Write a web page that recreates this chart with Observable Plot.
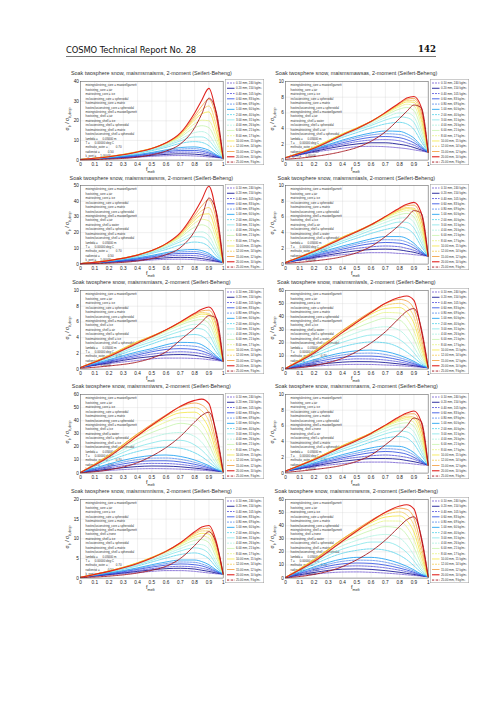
<!DOCTYPE html>
<html><head><meta charset="utf-8">
<script src="https://cdn.jsdelivr.net/npm/d3@7"></script>
<script src="https://cdn.jsdelivr.net/npm/@observablehq/plot@0.6"></script>
<style>
body{margin:0;background:#fff;}
#page{position:relative;width:504px;height:712px;overflow:hidden;background:#fff;font-family:"Liberation Sans",Arial,sans-serif;color:#222;}
.abs{position:absolute;white-space:nowrap;}
.title{font-size:5.4px;color:#333;transform:translate(-50%,-50%);}
.ylab{font-size:5.2px;transform:translate(-50%,-50%) rotate(-90deg);}
.xlab{font-size:5.4px;transform:translate(-50%,-50%);}
sub{font-size:70%;vertical-align:-0.35em;}
</style></head>
<body><div id="page"></div>
<script>
// ---------------- data ----------------
const fMelt = [0, 0.2, 0.4, 0.5, 0.6, 0.7, 0.8, 0.85, 0.9, 0.95, 1];
const xTicks = [0, 0.1, 0.2, 0.3, 0.4, 0.5, 0.6, 0.7, 0.8, 0.9, 1];
const diametersMm = ["0.10","0.20","0.40","0.60","0.80","1.00","2.00","3.00","4.00","6.00","8.00","10.00","12.00","15.00","20.00","25.00"];
const densitiesKgM3 = [240,150,105,83,69,60,40,31,26,21,17,15,14,12,10,9];
const chartCodes = ["maismsmaisms","maismsmawsas","maismsmawsms","maismsmiasls","maismsmiasrs","maismsmiwsls","maismsmiwsrs","maismsmnasms","maismsmnisms","maismsmnwsms"];
const yMaxima = [40,10,50,10,10,60,60,10,20,60];
const yTickSteps = [10,2,10,2,2,10,10,2,5,10];

const maismsmaisms = [
 [0.3,0.8,1.5,1.9,2.2,2.3,2.1,1.9,1.6,1.3,1.0],
 [0.3,0.9,1.8,2.4,2.9,3.2,3.0,2.7,2.2,1.6,1.0],
 [0.3,1.0,2.1,2.9,3.6,4.1,4.0,3.6,2.9,1.9,1.0],
 [0.3,1.1,2.4,3.3,4.2,4.9,4.9,4.5,3.6,2.2,1.0],
 [0.3,1.2,2.6,3.6,4.7,5.6,5.8,5.3,4.2,2.5,1.0],
 [0.3,1.3,2.8,3.9,5.2,6.4,6.7,6.2,5.0,2.8,1.0],
 [0.3,1.5,3.4,4.8,6.5,8.5,9.4,9.0,7.3,4.0,1.0],
 [0.3,1.6,3.7,5.2,7.2,9.8,11.8,11.8,10.0,5.5,1.0],
 [0.3,1.7,3.9,5.5,7.7,10.7,14.0,14.5,12.8,7.0,1.0],
 [0.3,1.8,4.1,5.8,8.2,11.7,16.5,17.5,16.5,9.5,1.0],
 [0.3,1.8,4.2,5.9,8.5,12.3,18.5,20.3,20.0,12.0,1.0],
 [0.3,1.8,4.3,6.0,8.7,12.8,20.5,23.5,24.5,15.0,1.0],
 [0.3,1.8,4.3,6.0,8.8,13.2,21.5,25.5,27.5,18.0,1.0],
 [0.3,1.8,4.2,6.0,8.8,13.5,22.5,27.5,31.0,22.0,1.0],
 [0.3,1.7,4.1,5.9,8.8,13.8,24.0,30.5,36.5,24.0,1.0],
 [0.1,0.5,1.5,2.7,4.6,8.2,16.5,23.5,31.5,25.0,1.0]
];
const maismsmawsas = [
 [0.3,1.0,1.5,1.7,1.75,1.7,1.55,1.45,1.3,1.15,1.0],
 [0.3,1.1,1.8,2.05,2.2,2.2,2.0,1.85,1.6,1.3,1.0],
 [0.3,1.2,2.0,2.35,2.55,2.6,2.45,2.2,1.9,1.45,1.0],
 [0.3,1.3,2.2,2.6,2.9,3.0,2.85,2.6,2.2,1.6,1.0],
 [0.3,1.35,2.4,2.85,3.2,3.35,3.25,3.0,2.5,1.7,1.0],
 [0.3,1.4,2.55,3.05,3.45,3.7,3.65,3.35,2.8,1.85,1.0],
 [0.3,1.5,2.9,3.5,4.1,4.6,4.8,4.6,3.9,2.4,1.0],
 [0.3,1.55,3.1,3.8,4.4,5.1,5.5,5.4,4.8,2.9,1.0],
 [0.3,1.6,3.2,3.9,4.6,5.4,6.0,6.0,5.5,3.4,1.0],
 [0.3,1.65,3.3,4.0,4.8,5.7,6.5,6.7,6.3,4.0,1.0],
 [0.3,1.65,3.35,4.1,4.9,5.85,6.8,7.1,6.9,4.6,1.0],
 [0.3,1.65,3.35,4.1,4.95,5.95,7.0,7.4,7.35,5.2,1.0],
 [0.3,1.6,3.3,4.1,4.95,6.0,7.1,7.6,7.6,5.7,1.0],
 [0.3,1.55,3.25,4.05,4.95,6.05,7.2,7.75,7.85,6.2,1.0],
 [0.3,1.5,3.2,4.0,4.9,6.05,7.3,7.9,8.1,6.8,1.0],
 [0.1,0.45,1.1,1.6,2.4,3.6,5.3,6.2,7.0,6.7,1.0]
];
const maismsmawsms = [
 [0.3,1.0,2.0,2.6,3.0,3.1,2.8,2.4,2.0,1.5,1.0],
 [0.3,1.2,2.5,3.3,4.0,4.3,4.0,3.5,2.8,1.9,1.0],
 [0.3,1.4,3.0,4.0,5.0,5.6,5.4,4.8,3.8,2.3,1.0],
 [0.3,1.5,3.4,4.6,5.9,6.8,6.8,6.1,4.8,2.8,1.0],
 [0.3,1.6,3.7,5.1,6.6,7.8,8.0,7.3,5.8,3.2,1.0],
 [0.3,1.7,4.0,5.5,7.3,8.8,9.3,8.6,6.8,3.6,1.0],
 [0.3,2.0,4.8,6.8,9.3,12.2,14.0,13.5,11.0,5.5,1.0],
 [0.3,2.1,5.2,7.5,10.5,14.2,17.5,17.3,14.5,7.5,1.0],
 [0.3,2.2,5.4,7.9,11.2,15.5,20.0,20.5,18.0,9.5,1.0],
 [0.3,2.3,5.7,8.3,12.0,17.0,23.5,25.0,23.0,13.0,1.0],
 [0.3,2.3,5.8,8.5,12.4,17.8,26.0,28.5,27.5,16.5,1.0],
 [0.3,2.3,5.9,8.6,12.7,18.5,28.0,31.5,32.0,20.0,1.0],
 [0.3,2.3,5.9,8.7,12.9,19.0,29.5,34.0,36.0,24.0,1.0],
 [0.3,2.3,5.8,8.7,13.0,19.5,31.0,37.0,41.0,29.0,1.0],
 [0.3,2.2,5.7,8.6,13.0,20.0,33.0,41.0,49.5,33.0,1.0],
 [0.1,0.6,2.0,3.5,6.0,10.5,21.0,30.0,42.0,34.0,1.0]
];
const maismsmiasls = [
 [0.2,0.75,1.2,1.35,1.45,1.45,1.35,1.3,1.2,1.1,1.0],
 [0.2,0.85,1.45,1.7,1.85,1.9,1.8,1.65,1.5,1.25,1.0],
 [0.2,0.95,1.7,2.0,2.2,2.3,2.2,2.0,1.75,1.4,1.0],
 [0.2,1.05,1.9,2.3,2.6,2.75,2.65,2.45,2.05,1.5,1.0],
 [0.2,1.15,2.1,2.55,2.9,3.1,3.05,2.8,2.35,1.6,1.0],
 [0.2,1.25,2.3,2.75,3.2,3.5,3.5,3.25,2.65,1.75,1.0],
 [0.2,1.4,2.7,3.3,3.9,4.4,4.7,4.5,3.8,2.3,1.0],
 [0.2,1.5,2.95,3.6,4.3,4.9,5.35,5.3,4.6,2.8,1.0],
 [0.2,1.6,3.15,3.85,4.6,5.3,5.85,5.9,5.3,3.3,1.0],
 [0.2,1.65,3.3,4.05,4.85,5.65,6.3,6.45,6.0,3.9,1.0],
 [0.2,1.7,3.4,4.15,4.95,5.85,6.6,6.8,6.5,4.4,1.0],
 [0.2,1.7,3.45,4.2,5.0,5.95,6.8,7.05,6.95,5.0,1.0],
 [0.2,1.7,3.45,4.2,5.05,6.0,6.9,7.2,7.1,5.6,1.0],
 [0.2,1.65,3.4,4.2,5.05,6.05,7.05,7.45,7.5,5.9,1.0],
 [0.2,1.6,3.3,4.1,5.0,6.05,7.15,7.6,7.85,6.6,1.0],
 [0.1,0.4,0.95,1.45,2.25,3.5,5.0,5.9,6.8,6.5,1.0]
];
const maismsmiasrs = [
 [0.2,0.7,1.1,1.3,1.4,1.4,1.35,1.3,1.2,1.1,1.0],
 [0.2,0.8,1.4,1.6,1.8,1.85,1.75,1.6,1.45,1.25,1.0],
 [0.2,0.9,1.6,1.9,2.1,2.2,2.1,1.95,1.7,1.35,1.0],
 [0.2,1.0,1.8,2.2,2.5,2.6,2.5,2.3,1.95,1.45,1.0],
 [0.2,1.1,2.0,2.4,2.8,3.0,2.9,2.7,2.2,1.55,1.0],
 [0.2,1.2,2.2,2.6,3.1,3.4,3.35,3.1,2.5,1.7,1.0],
 [0.2,1.4,2.6,3.2,3.8,4.2,4.4,4.2,3.5,2.2,1.0],
 [0.2,1.5,2.9,3.5,4.2,4.8,5.2,5.1,4.4,2.7,1.0],
 [0.2,1.6,3.1,3.8,4.5,5.2,5.7,5.7,5.1,3.1,1.0],
 [0.2,1.7,3.3,4.0,4.8,5.6,6.2,6.3,5.8,3.7,1.0],
 [0.2,1.75,3.4,4.1,4.9,5.8,6.5,6.7,6.4,4.2,1.0],
 [0.2,1.75,3.5,4.2,5.0,5.9,6.7,7.0,6.9,4.8,1.0],
 [0.2,1.75,3.5,4.2,5.0,6.0,6.9,7.2,7.05,5.5,1.0],
 [0.2,1.7,3.4,4.2,5.0,6.0,7.0,7.4,7.5,5.8,1.0],
 [0.2,1.6,3.3,4.1,5.0,6.0,7.1,7.6,7.9,6.5,1.0],
 [0.1,0.4,0.9,1.4,2.2,3.7,5.2,6.0,6.8,6.5,1.0]
];
const maismsmiwsls = [
 [0.5,2.2,3.4,3.6,3.5,3.1,2.6,2.2,1.8,1.4,1.0],
 [0.5,3.2,5.3,5.7,5.6,5.0,3.9,3.3,2.6,1.7,1.0],
 [0.5,4.2,7.1,7.8,7.7,6.9,5.4,4.4,3.3,2.0,1.0],
 [0.5,5.2,9.0,9.9,9.9,9.0,7.0,5.7,4.1,2.3,1.0],
 [0.5,6.2,10.8,12.0,12.2,11.1,8.6,7.0,5.0,2.6,1.0],
 [0.5,7.2,12.5,14.0,14.5,13.4,10.5,8.4,5.9,3.0,1.0],
 [0.5,9.8,17.0,19.5,20.7,20.0,16.3,13.0,8.8,4.3,1.0],
 [0.5,11.3,20.5,23.7,26.0,26.2,22.5,18.3,12.5,5.7,1.0],
 [0.5,12.3,23.5,27.8,31.0,32.3,29.5,24.5,16.8,7.8,1.0],
 [0.5,13.2,26.3,31.5,35.8,38.8,37.3,32.3,23.0,10.5,1.0],
 [0.5,13.6,28.0,34.2,39.5,43.2,42.8,38.5,29.0,13.5,1.0],
 [0.5,13.8,29.2,36.0,42.0,46.3,47.0,43.5,35.0,17.0,1.0],
 [0.5,13.7,29.6,36.8,43.3,48.5,50.2,47.8,40.0,20.5,1.0],
 [0.5,13.3,29.5,37.0,44.0,50.0,53.2,52.0,45.8,24.5,1.0],
 [0.5,12.3,28.0,35.8,43.2,50.2,54.8,55.8,52.5,30.5,1.0],
 [0.2,2.6,8.3,13.4,20.0,28.5,39.2,44.2,46.2,32.0,1.0]
];
const maismsmiwsrs = [
 [0.5,2.0,3.2,3.4,3.3,3.0,2.5,2.2,1.8,1.4,1.0],
 [0.5,3.0,5.0,5.4,5.3,4.8,3.8,3.2,2.5,1.7,1.0],
 [0.5,4.0,6.8,7.4,7.3,6.6,5.2,4.3,3.2,2.0,1.0],
 [0.5,5.0,8.6,9.4,9.4,8.5,6.7,5.5,4.0,2.3,1.0],
 [0.5,6.0,10.3,11.4,11.5,10.5,8.2,6.7,4.8,2.6,1.0],
 [0.5,7.0,12.0,13.4,13.8,12.7,10.0,8.0,5.7,3.0,1.0],
 [0.5,9.5,16.5,18.8,19.8,19.0,15.5,12.5,8.5,4.2,1.0],
 [0.5,11.0,20.0,23.0,25.0,25.0,21.5,17.5,12.0,5.5,1.0],
 [0.5,12.0,23.0,27.0,30.0,31.0,28.0,23.5,16.0,7.5,1.0],
 [0.5,13.0,26.0,31.0,35.0,38.0,36.0,31.0,22.0,10.0,1.0],
 [0.5,13.5,28.0,34.0,39.0,42.5,42.0,37.5,28.0,13.0,1.0],
 [0.5,13.8,29.5,36.0,42.0,46.0,46.5,43.0,34.0,16.5,1.0],
 [0.5,13.8,30.0,37.0,43.5,48.5,50.0,47.5,39.5,20.0,1.0],
 [0.5,13.5,30.0,37.5,44.5,50.5,53.5,52.0,45.5,24.0,1.0],
 [0.5,12.5,28.5,36.5,44.0,51.0,55.5,56.5,53.0,30.0,1.0],
 [0.2,2.5,8.0,13.0,19.5,28.0,39.0,44.0,46.5,32.0,1.0]
];
const maismsmnasms = [
 [0.25,0.8,1.2,1.35,1.4,1.4,1.3,1.25,1.15,1.05,1.0],
 [0.25,0.9,1.5,1.7,1.85,1.85,1.75,1.6,1.45,1.25,1.0],
 [0.25,1.0,1.75,2.0,2.2,2.3,2.15,2.0,1.75,1.4,1.0],
 [0.25,1.1,1.95,2.3,2.6,2.75,2.6,2.4,2.0,1.5,1.0],
 [0.25,1.2,2.15,2.55,2.9,3.1,3.0,2.75,2.3,1.6,1.0],
 [0.25,1.3,2.35,2.8,3.2,3.45,3.4,3.15,2.6,1.75,1.0],
 [0.25,1.5,2.8,3.35,3.95,4.45,4.65,4.45,3.7,2.3,1.0],
 [0.25,1.6,3.05,3.7,4.35,5.0,5.35,5.25,4.55,2.8,1.0],
 [0.25,1.7,3.25,3.95,4.65,5.35,5.85,5.85,5.25,3.3,1.0],
 [0.25,1.75,3.4,4.15,4.9,5.7,6.3,6.4,5.95,3.9,1.0],
 [0.25,1.8,3.5,4.25,5.0,5.9,6.6,6.8,6.45,4.4,1.0],
 [0.25,1.8,3.5,4.3,5.1,6.0,6.8,7.05,6.9,5.0,1.0],
 [0.25,1.8,3.5,4.3,5.1,6.05,6.95,7.25,7.1,5.6,1.0],
 [0.25,1.75,3.45,4.25,5.1,6.1,7.1,7.5,7.55,5.9,1.0],
 [0.25,1.7,3.35,4.15,5.05,6.1,7.2,7.65,7.9,6.6,1.0],
 [0.1,0.45,1.0,1.5,2.3,3.6,5.1,6.0,7.0,6.6,1.0]
];
const maismsmnisms = [
 [0.2,0.8,1.4,1.7,1.9,1.9,1.7,1.5,1.3,1.1,1.0],
 [0.2,0.9,1.7,2.1,2.4,2.5,2.3,2.0,1.7,1.3,1.0],
 [0.2,1.0,1.9,2.4,2.8,3.0,2.8,2.5,2.1,1.5,1.0],
 [0.2,1.1,2.2,2.8,3.3,3.6,3.4,3.1,2.5,1.7,1.0],
 [0.2,1.2,2.4,3.1,3.7,4.1,4.0,3.6,2.9,1.9,1.0],
 [0.2,1.3,2.6,3.4,4.1,4.6,4.6,4.2,3.4,2.1,1.0],
 [0.2,1.5,3.1,4.1,5.1,6.0,6.4,6.0,4.9,2.8,1.0],
 [0.2,1.6,3.4,4.5,5.7,6.9,7.7,7.4,6.2,3.5,1.0],
 [0.2,1.7,3.6,4.8,6.1,7.5,8.6,8.5,7.4,4.2,1.0],
 [0.2,1.8,3.8,5.1,6.5,8.1,9.6,9.8,9.0,5.3,1.0],
 [0.2,1.8,3.9,5.2,6.7,8.5,10.3,10.7,10.2,6.2,1.0],
 [0.2,1.8,3.9,5.3,6.8,8.7,10.8,11.4,11.2,7.0,1.0],
 [0.2,1.8,3.9,5.3,6.9,8.9,11.2,12.0,12.0,7.8,1.0],
 [0.2,1.8,3.8,5.2,6.9,9.0,11.5,12.5,12.7,8.6,1.0],
 [0.2,1.7,3.7,5.1,6.8,9.0,11.8,13.0,13.4,9.5,1.0],
 [0.1,0.5,1.3,2.0,3.0,5.0,8.3,10.2,11.8,9.0,1.0]
];
const maismsmnwsms = [
 [0.5,3.0,4.6,4.7,4.4,3.8,3.0,2.5,2.0,1.5,1.0],
 [0.5,4.3,6.8,7.0,6.6,5.7,4.4,3.6,2.8,1.8,1.0],
 [0.5,5.5,8.9,9.3,8.9,7.8,6.0,4.9,3.6,2.1,1.0],
 [0.5,6.6,10.9,11.5,11.2,9.9,7.6,6.2,4.4,2.4,1.0],
 [0.5,7.6,12.8,13.7,13.5,12.1,9.3,7.5,5.3,2.7,1.0],
 [0.5,8.5,14.6,15.8,15.8,14.4,11.2,9.0,6.3,3.1,1.0],
 [0.5,10.5,19.0,21.2,22.3,21.3,17.4,14.0,9.4,4.5,1.0],
 [0.5,11.8,22.2,25.3,27.5,27.5,23.7,19.5,13.2,6.0,1.0],
 [0.5,12.8,24.8,28.8,32.0,33.3,30.5,25.5,17.5,8.0,1.0],
 [0.5,13.6,27.3,32.3,36.5,39.3,38.0,33.0,23.5,10.8,1.0],
 [0.5,14.0,28.8,34.8,40.0,43.6,43.5,39.0,29.5,13.8,1.0],
 [0.5,14.2,29.8,36.4,42.3,46.6,47.5,44.0,35.2,17.3,1.0],
 [0.5,14.0,30.0,37.0,43.5,48.6,50.5,48.2,40.3,20.8,1.0],
 [0.5,13.6,29.8,37.2,44.2,50.0,53.4,52.5,46.0,25.0,1.0],
 [0.5,12.6,28.3,36.0,43.5,50.3,55.0,56.0,52.8,31.0,1.0],
 [0.2,2.8,8.8,14.0,20.5,29.0,39.5,44.5,46.8,32.5,1.0]
];
const chartSeries = [maismsmaisms, maismsmawsas, maismsmawsms, maismsmiasls, maismsmiasrs,
                     maismsmiwsls, maismsmiwsrs, maismsmnasms, maismsmnisms, maismsmnwsms];

// ---------------- styles ----------------
const lineColors = ["#5b3fc9","#1c1c96","#3a36d6","#2546e0","#3c78ea","#2aa6f2","#3ccbe6","#72e2e6",
                    "#a2f0dc","#bdf2a0","#e2f274","#f4e640","#f4c43c","#f39a36","#e0231f","#a3121a"];
const lineDash = ["2 1","none","2 1","none","2 1","none","2 1","none","2 1","none","2 1","none","2 1","none","none","2 0.8 0.5 0.8"];
const lineWidth = [0.7,0.9,0.7,0.8,0.7,0.9,0.7,0.7,0.7,0.7,0.7,0.8,0.7,0.8,1.1,0.9];

const charNames = {a:"air", i:"ice", w:"water", n:"none", m:"matrix", r:"ice", l:"water", s:"spheroidal"};
function annotation(code) {
  const lines = [];
  [["core", code.slice(0,6)], ["shell", code.slice(6)]].forEach(([part, c]) => {
    lines.push(`mixingrulestring_${part} = maxwellgarnett`);
    lines.push(`hoststring_${part} = ${charNames[c[1]]}`);
    lines.push(`matrixstring_${part} = ${charNames[c[2]]}`);
    lines.push(`inclusionstring_${part} = spheroidal`);
    lines.push(`hostmatrixstring_${part} = ${charNames[c[4]]}`);
    lines.push(`hostinclusionstring_${part} = spheroidal`);
  });
  lines.push("lambda =      0.05000 m");
  lines.push("T =      0.00000 deg C");
  lines.push("meltratio_outer =          0.70");
  lines.push("radienrat =          0.50");
  lines.push("k_pert =     1.00000");
  return lines.join("\n");
}

// ---------------- layout ----------------
const page = document.getElementById("page");
function addDiv(cls, x, y, html, extra) {
  const d = document.createElement("div");
  d.className = "abs " + cls;
  d.style.left = x + "px"; d.style.top = y + "px";
  d.innerHTML = html;
  if (extra) Object.assign(d.style, extra);
  page.appendChild(d);
  return d;
}
// header
addDiv("", 66, 44.5, "COSMO Technical Report No. 28", {fontSize:"8.4px", fontFamily:"'DejaVu Sans',sans-serif", letterSpacing:"-0.1px", color:"#111"});
addDiv("", 436, 44, "142", {fontSize:"8.6px", fontWeight:"bold", fontFamily:"'DejaVu Serif',serif", transform:"translateX(-100%)", color:"#111"});
addDiv("", 66, 55.6, "", {width:"370px", height:"0", borderTop:"0.6px solid #777"});

const PW = 142.7, PH = 78.6;
const ML = 16, MR = 3, MT = 4, MB = 12;

chartCodes.forEach((code, idx) => {
  const col = idx % 2, row = Math.floor(idx / 2);
  const plotLeft = col ? 285 : 80;
  const plotTop = 80.7 + 104.45 * row;
  const yMax = yMaxima[idx], step = yTickSteps[idx];
  const yTicks = d3.range(0, yMax + step / 2, step);
  const series = chartSeries[idx];
  const rows = series.flatMap((vals, k) => vals.map((v, j) => ({f: fMelt[j], v, k})));

  const marks = [
    Plot.gridX(xTicks, {stroke:"#d4d4d4", strokeOpacity:1, strokeWidth:0.35}),
    Plot.gridY(yTicks, {stroke:"#d4d4d4", strokeOpacity:1, strokeWidth:0.35}),
    Plot.text([annotation(code)], {text:d=>d, frameAnchor:"top-left", dx:5, dy:1.8, fontSize:2.95, lineHeight:1.5, fill:"#333"})
  ];
  diametersMm.forEach((d, k) => {
    marks.push(Plot.line(rows.filter(r => r.k === k), {x:"f", y:"v", curve:"monotone-x",
      stroke:lineColors[k], strokeWidth:lineWidth[k], strokeDasharray:lineDash[k]}));
  });
  marks.push(Plot.frame({stroke:"#555", strokeWidth:0.5}));
  marks.push(Plot.axisX(xTicks, {tickSize:0, tickPadding:2.2, fontSize:4.7, tickFormat:d=>String(+d.toFixed(1)), label:null}));
  marks.push(Plot.axisY(yTicks, {tickSize:0, tickPadding:1.6, fontSize:4.7, label:null}));

  const svg = Plot.plot({
    width: ML + PW + MR, height: MT + PH + MB,
    marginLeft: ML, marginRight: MR, marginTop: MT, marginBottom: MB,
    x: {domain:[0,1]}, y: {domain:[0,yMax]},
    style: {fontFamily:"'Liberation Sans',Arial,sans-serif", background:"transparent", overflow:"visible", color:"#222"},
    marks
  });
  svg.style.position = "absolute";
  svg.style.left = (plotLeft - ML) + "px";
  svg.style.top = (plotTop - MT) + "px";
  page.appendChild(svg);

  // title, axis labels
  addDiv("title", plotLeft + PW/2, plotTop - 7.6, `Soak twosphere snow, ${code}, 2-moment (Seifert-Beheng)`);
  addDiv("ylab", plotLeft - 12.5, plotTop + 38, "σ<sub>b</sub> / σ<sub>b,drop</sub>");
  addDiv("xlab", plotLeft + PW/2 - 1, plotBottom = plotTop + PH + 10.6, "f<sub>melt</sub>");

  // legend box
  const lx = plotLeft + PW + 2.4, ly = plotTop - 1.5, LW = 39, LH = 86;
  const lg = d3.create("svg").attr("width", LW).attr("height", LH)
    .style("position","absolute").style("left", lx + "px").style("top", ly + "px").style("overflow","visible");
  lg.append("rect").attr("x",0.25).attr("y",0.25).attr("width",LW-0.5).attr("height",LH-0.5)
    .attr("fill","#fff").attr("stroke","#9a9a9a").attr("stroke-width",0.5);
  diametersMm.forEach((d, i) => {
    const yy = 4 + 5.27 * i;
    lg.append("line").attr("x1",2).attr("x2",9.5).attr("y1",yy).attr("y2",yy)
      .attr("stroke",lineColors[i]).attr("stroke-width",lineWidth[i]).attr("stroke-dasharray",lineDash[i]);
    lg.append("text").attr("x",11).attr("y",yy).attr("dy","0.35em")
      .attr("font-size",2.9).attr("fill","#333").attr("font-family","'Liberation Sans',Arial,sans-serif")
      .text(`${d} mm, ${densitiesKgM3[i]} kg/m³`);
  });
  page.appendChild(lg.node());
});
</script>
</body></html>
